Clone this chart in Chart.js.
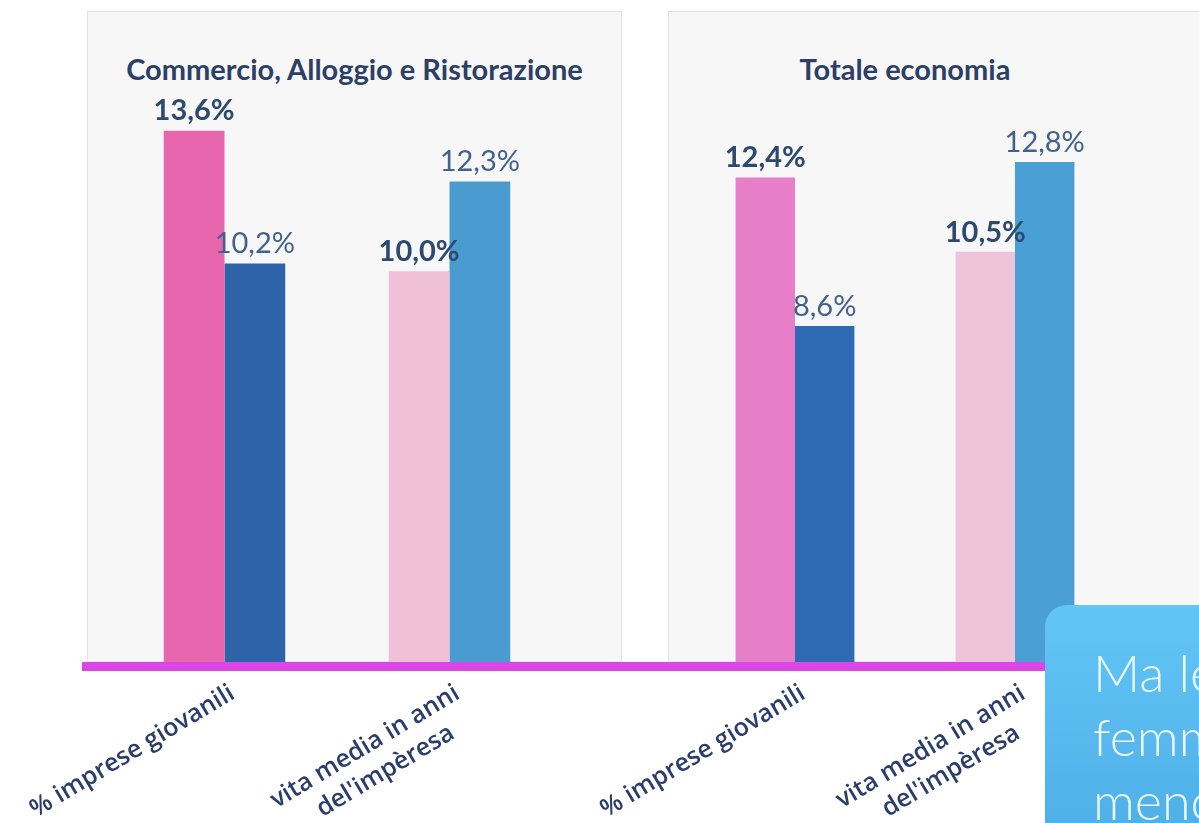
<!DOCTYPE html>
<html>
<head>
<meta charset="utf-8">
<script src="https://cdn.jsdelivr.net/npm/chart.js@4.4.1/dist/chart.umd.min.js"></script>
<style>
    html, body { margin: 0; padding: 0; background: #ffffff; }
    body { width: 1199px; height: 823px; position: relative; overflow: hidden; font-family: Lato, "Open Sans", sans-serif; }
    .panel { position: absolute; top: 11px; height: 651px; background: #f7f7f7; border: 1px solid #e3e3e3; box-sizing: border-box; }
    .title { position: absolute; top: 51px; font-family: Lato, sans-serif; font-weight: bold; font-size: 29px; color: #2c3f66; text-align: center; }
    canvas { position: absolute; left: 0; top: 0; }
    #baseline { position: absolute; left: 82px; top: 662px; width: 990px; height: 9px; background: #dc46e6; }
    #note { position: absolute; left: 1045px; top: 605px; width: 180px; height: 240px; border-radius: 22px 0 0 0;
            background: linear-gradient(#62c6f5, #4eaee8); overflow: hidden; z-index: 5; }
    #note div { position: absolute; left: 48px; font-size: 52px; font-weight: 300; color: rgba(255,255,255,0.88); white-space: nowrap; }
</style>
</head>
<body>
<div class="panel" style="left:87px; width:535px;"></div>
<div class="panel" style="left:668px; width:560px;"></div>
<div class="title" id="title1" style="left:87px; width:535px;"></div>
<div class="title" id="title2" style="left:668px; width:474px;"></div>
<div id="chartBox1"><canvas id="chart1" width="1199" height="823"></canvas></div>
<div id="chartBox2"><canvas id="chart2" width="1199" height="823"></canvas></div>
<div id="baseline"></div>
<div id="note">
    <div style="top:36px;">Ma le imprese</div>
    <div style="top:100px;">femminili</div>
    <div style="top:164px;">meno</div>
</div>
<script>
// Data
const categories = [["% imprese giovanili"], ["vita media in anni", "del'impèresa"]];
const panelTitles = ["Commercio, Alloggio e Ristorazione", "Totale economia"];
const seriesNames = ["Imprese femminili", "Imprese non femminili"];
const commercioFemminili = [13.6, 10.0];
const commercioAltre = [10.2, 12.3];
const totaleFemminili = [12.4, 10.5];
const totaleAltre = [8.6, 12.8];

const yMax = 14;
const tickFont = { family: 'Open Sans', size: 25, weight: '600', lineHeight: 1.25 };

document.getElementById('title1').textContent = panelTitles[0];
document.getElementById('title2').textContent = panelTitles[1];

function fmt(v) {
    return v.toFixed(1).replace('.', ',') + '%';
}

// lines of a rotated label are right aligned by Chart.js, pad the short ones so they look centred
const measureCtx = document.createElement('canvas').getContext('2d');
function centredLines(lines) {
    if (lines.length < 2) return lines;
    measureCtx.font = tickFont.weight + ' ' + tickFont.size + 'px "' + tickFont.family + '"';
    const widths = lines.map(l => measureCtx.measureText(l).width);
    const maxW = Math.max(...widths);
    const sp = measureCtx.measureText('\u2002').width;
    return lines.map((l, i) => l + '\u2002'.repeat(Math.round((maxW - widths[i]) / 2 / sp)));
}

// draws the value above each bar
const valueLabels = {
    id: 'valueLabels',
    afterDatasetsDraw(chart) {
        const ctx = chart.ctx;
        ctx.save();
        ctx.textAlign = 'center';
        ctx.textBaseline = 'bottom';
        chart.data.datasets.forEach((ds, i) => {
            const meta = chart.getDatasetMeta(i);
            meta.data.forEach((bar, j) => {
                ctx.font = (i === 0 ? 'bold ' : '') + '29px Lato';
                ctx.fillStyle = i === 0 ? '#2c4a70' : '#41628c';
                ctx.fillText(fmt(ds.data[j]), bar.x, bar.y - 5);
            });
        });
        ctx.restore();
    }
};

function makeChart(id, pinkData, blueData, pinkColors, blueColors, padLeft, padRight) {
    const ctx = document.getElementById(id).getContext('2d');
    return new Chart(ctx, {
        type: 'bar',
        data: {
            labels: categories,
            datasets: [{
                label: seriesNames[0],
                data: pinkData,
                backgroundColor: pinkColors,
                borderWidth: 0
            }, {
                label: seriesNames[1],
                data: blueData,
                backgroundColor: blueColors,
                borderWidth: 0
            }]
        },
        options: {
            responsive: false,
            animation: false,
            layout: { padding: { left: padLeft, right: padRight, top: 115, bottom: 0 } },
            plugins: { legend: { display: false }, tooltip: { enabled: false } },
            datasets: { bar: { barPercentage: 1, categoryPercentage: 0.54 } },
            scales: {
                x: {
                    grid: { display: false, drawTicks: false },
                    border: { display: false },
                    ticks: {
                        autoSkip: false,
                        maxRotation: 31,
                        minRotation: 31,
                        padding: 16,
                        labelOffset: 8,
                        color: '#2b3d6b',
                        font: tickFont,
                        callback: (value, index) => centredLines(categories[index])
                    },
                    afterFit(scale) {
                        scale.height = 161;
                        scale.paddingLeft = 0;
                        scale.paddingRight = 0;
                    }
                },
                y: {
                    display: false,
                    min: 0,
                    max: yMax
                }
            }
        },
        plugins: [valueLabels]
    });
}

makeChart('chart1', commercioFemminili, commercioAltre,
    ['#e766ae', '#efc0d7'], ['#2d63a9', '#4a9bd0'], 112, 637);
makeChart('chart2', totaleFemminili, totaleAltre,
    ['#e77ec8', '#efc3da'], ['#2f6bb4', '#4aa0d4'], 685, 74);
</script>
</body>
</html>
